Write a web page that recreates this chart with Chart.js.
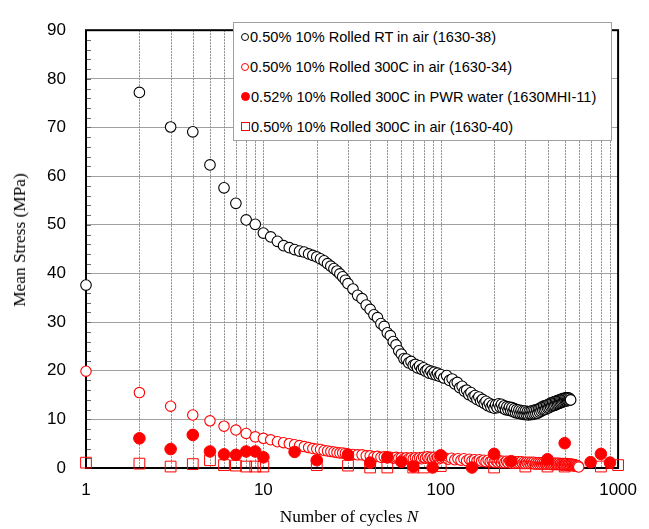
<!DOCTYPE html>
<html>
<head>
<meta charset="utf-8">
<script src="https://cdn.jsdelivr.net/npm/chart.js@4"></script>
<style>
  html,body{margin:0;padding:0;background:#fff;}
  #wrap{position:relative;width:649px;height:529px;overflow:hidden;}
  #c{position:absolute;left:0;top:0;}
  #legend{position:absolute;left:233px;top:22px;width:377px;height:117px;border:1px solid #a0a0a0;background:#fff;
    font-family:'Liberation Sans',Arial,sans-serif;font-size:14.6px;color:#000;}
  .row{position:absolute;left:7px;height:20px;line-height:20px;display:flex;align-items:center;white-space:nowrap;}
  .mk{display:inline-block;box-sizing:border-box;width:8px;height:8px;margin-right:1px;}
  .c0{border:1px solid #000;border-radius:50%;background:#fff;}
  .c1{border:1px solid #ff0000;border-radius:50%;background:#fff;}
  .c2{border:1px solid #ff0000;border-radius:50%;background:#ff0000;width:9px;height:9px;}
  .c3{border:1px solid #ff0000;background:transparent;width:9px;height:9px;}
  .ttl{position:absolute;font-family:'Liberation Serif','Times New Roman',serif;font-size:17.3px;color:#000;white-space:nowrap;}
  #ytitle{left:20px;top:240px;transform:translate(-50%,-50%) rotate(-90deg);}
  #xtitle{left:349px;top:517px;transform:translate(-50%,-50%);}
</style>
</head>
<body>
<div id="wrap">
  <canvas id="c" width="649" height="529"></canvas>
  <div id="legend"></div>
  <div id="ytitle" class="ttl">Mean Stress (MPa)</div>
  <div id="xtitle" class="ttl">Number of cycles <i>N</i></div>
</div>
<script>
// ---------- DATA ----------
const seriesNames = [
  '0.50% 10% Rolled RT in air (1630-38)',
  '0.50% 10% Rolled 300C in air (1630-34)',
  '0.52% 10% Rolled 300C in PWR water (1630MHI-11)',
  '0.50% 10% Rolled 300C in air (1630-40)'
];

// RT in air (1630-38)
const rtCycles = [
  1,2,3,4,5,6,7,8,9,10,11,12,13,14,15,16,17,18,19,20,21,22,23,24,25,26,27,28,29,30,
  32,34,36,38,40,42,44,46,48,50,52,54,56,58,60,62,64,66,68,70,72,74,76,78,80,82,84,86,88,90,92,94,96,98,100,
  104,108,112,116,120,124,128,132,136,140,
  144,148,152,156,160,164,168,172,176,180,
  184,188,192,196,200,204,208,212,216,220,
  224,228,232,236,240,244,248,252,256,260,
  264,268,272,276,280,284,288,292,296,300,
  304,308,312,316,320,324,328,332,336,340,
  344,348,352,356,360,364,368,372,376,380,
  384,388,392,396,400,404,408,412,416,420,
  424,428,432,436,440,444,448,452,456,460,
  464,468,472,476,480,484,488,492,496,500,
  504,508,512,516,520,524,528,532,536,540
];
const rtStress = [
  37.6,77.2,70.1,69.1,62.3,57.6,54.4,51.0,50.1,48.3,
  47.5,46.6,45.7,45.3,44.9,44.6,44.4,44.0,43.7,43.4,
  43.0,42.6,42.0,41.5,41.0,40.5,39.9,39.3,38.6,37.9,
  36.8,35.5,34.8,33.5,32.6,31.5,30.9,29.7,29.1,27.8,
  27.2,26.0,25.3,24.1,23.4,22.5,22.4,21.6,21.9,21.1,
  21.3,20.6,21.0,20.3,20.6,19.9,20.2,19.5,19.9,19.3,
  19.7,19.1,19.5,18.9,19.2,
  18.5,19.0,18.0,18.3,17.3,17.6,16.5,16.8,15.8,16.0,
  15.1,15.5,14.6,14.9,14.1,14.6,13.7,14.1,13.3,13.7,
  12.8,13.3,12.5,13.0,12.3,13.0,12.4,13.2,12.5,13.1,
  12.3,12.8,12.0,12.6,11.9,12.5,11.8,12.4,11.6,12.2,
  11.4,12.0,11.3,11.9,11.2,11.8,11.1,11.7,11.0,11.7,
  11.0,11.6,10.9,11.6,11.0,11.7,11.0,11.8,11.1,11.9,
  11.2,12.0,11.3,12.1,11.5,12.3,11.7,12.5,11.9,12.7,
  12.0,12.8,12.1,12.9,12.3,13.1,12.4,13.2,12.6,13.4,
  12.7,13.5,12.8,13.6,12.9,13.7,13.1,13.8,13.2,13.9,
  13.3,14.0,13.4,14.1,13.5,14.2,13.6,14.3,13.7,14.3,
  13.8,14.4,13.8,14.4,13.9,14.4,13.9,14.3,14.0,14.0
];

// 300C in air (1630-34)
const air34Cycles = [
  1,2,3,4,5,6,7,8,9,10,11,12,13,14,15,16,17,18,19,20,21,22,23,24,25,26,27,28,29,30,
  32,34,36,38,40,42,44,46,48,50,52,54,56,58,60,62,64,66,68,70,72,74,76,78,80,82,84,86,88,90,92,94,96,98,100,
  105,110,115,120,125,130,135,140,145,150,
  155,160,165,170,175,180,185,190,195,200,
  205,210,215,220,225,230,235,240,245,250,
  255,260,265,270,275,280,285,290,295,300,
  305,310,315,320,325,330,335,340,345,350,
  355,360,365,370,375,380,385,390,395,400,
  405,410,415,420,425,430,435,440,445,450,
  455,460,465,470,475,480,485,490,495,500,
  505,510,515,520,525,530,535,540,545,550,
  555,560,565,570,575,580,585,590,595,600
];
const air34Stress = [
  19.9,15.5,12.7,10.9,9.7,8.6,7.8,7.1,6.4,6.1,
  5.8,5.4,5.2,5.0,4.8,4.6,4.4,4.2,4.0,3.9,
  3.8,3.6,3.5,3.4,3.3,3.2,3.1,3.1,3.0,2.9,
  2.8,2.7,2.7,2.5,2.5,2.3,2.4,2.2,2.3,2.1,
  2.2,2.0,2.2,2.0,2.1,1.9,2.1,1.9,2.1,1.9,
  2.1,1.9,2.1,1.9,2.2,2.0,2.3,2.0,2.2,1.9,
  2.2,1.9,2.1,1.9,2.1,
  2.1,1.8,2.0,1.7,1.9,1.6,1.9,1.5,1.8,1.5,
  1.7,1.4,1.7,1.4,1.6,1.3,1.6,1.3,1.5,1.2,
  1.5,1.2,1.5,1.1,1.4,1.1,1.4,1.1,1.4,1.0,
  1.3,1.0,1.3,1.0,1.3,1.0,1.3,0.9,1.2,0.9,
  1.2,0.9,1.2,0.9,1.2,0.9,1.2,0.8,1.1,0.8,
  1.1,0.8,1.1,0.8,1.1,0.8,1.1,0.8,1.1,0.8,
  1.1,0.8,1.0,0.7,1.0,0.7,1.0,0.7,1.0,0.7,
  1.0,0.7,1.0,0.7,0.9,0.6,0.9,0.6,0.9,0.6,
  0.9,0.6,0.9,0.6,0.8,0.5,0.8,0.5,0.8,0.5,
  0.7,0.4,0.7,0.4,0.6,0.4,0.5,0.3,0.4,0.2
];

// 300C in PWR water (1630MHI-11)
const pwrCycles = [2,3,4,5,6,7,8,9,10,15,20,30,40,50,60,70,90,100,150,200,250,400,500,700,800,900];
const pwrStress = [6.1,3.9,6.8,3.4,2.8,2.7,3.4,3.4,2.2,3.3,1.6,2.7,1.1,2.2,1.3,0.3,0.1,2.6,0.1,2.9,1.4,1.8,5.1,1.2,2.9,1.1];

// 300C in air (1630-40)
const air40Cycles = [1,2,3,4,5,6,7,8,9,10,20,30,40,50,70,80,100,200,300,400,500,800,1000];
const air40Stress = [1.1,0.9,0.3,0.8,1.6,0.6,0.5,0.3,0.3,0.3,0.6,0.5,0.1,0.1,0.1,0.1,0.4,0.1,0.3,0.3,0.3,0.3,0.6];

// axis ticks
const xTickCycles = [1,2,3,4,5,6,7,8,9,10,20,30,40,50,60,70,80,90,100,200,300,400,500,600,700,800,900,1000];
const xLabelCycles = [1,10,100,1000];
const yMin = 0, yMax = 90, yStep = 10, yMinorStep = 2;

// ---------- BUILD ----------
const pts = (xs, ys) => xs.map((x, i) => ({x: x, y: ys[i]}));

const frame = {
  id: 'frame',
  beforeDatasetsDraw(chart) {
    const {ctx, chartArea: a, scales} = chart;
    const x = scales.x, y = scales.y;
    ctx.save();
    ctx.strokeStyle = '#8e8e8e';
    ctx.lineWidth = 1;
    ctx.setLineDash([2, 1]);
    x.ticks.forEach(t => {
      const px = Math.round(x.getPixelForValue(t.value)) + 0.5;
      ctx.beginPath(); ctx.moveTo(px, a.top); ctx.lineTo(px, a.bottom); ctx.stroke();
    });
    ctx.setLineDash([]);
    ctx.strokeStyle = '#666';
    for (let v = yMin; v <= yMax; v += yMinorStep) {
      const py = Math.round(y.getPixelForValue(v)) + 0.5;
      ctx.beginPath(); ctx.moveTo(a.left, py); ctx.lineTo(a.left + 5, py); ctx.stroke();
    }
    ctx.strokeStyle = '#000';
    ctx.lineWidth = 2;
    ctx.strokeRect(a.left, a.top, a.right - a.left, a.bottom - a.top);
    ctx.restore();
  }
};

new Chart(document.getElementById('c'), {
  type: 'scatter',
  data: {
    datasets: [
      {label: seriesNames[0], data: pts(rtCycles, rtStress), order: 0, clip: false,
       pointStyle: 'circle', pointRadius: 5.3, borderWidth: 1.1, borderColor: '#000', backgroundColor: '#fff'},
      {label: seriesNames[1], data: pts(air34Cycles, air34Stress), order: 3, clip: false,
       pointStyle: 'circle', pointRadius: 5.2, borderWidth: 1.1, borderColor: '#ff0000', backgroundColor: '#fff'},
      {label: seriesNames[2], data: pts(pwrCycles, pwrStress), order: 2, clip: false,
       pointStyle: 'circle', pointRadius: 5.8, borderWidth: 1, borderColor: '#ff0000', backgroundColor: '#ff0000'},
      {label: seriesNames[3], data: pts(air40Cycles, air40Stress), order: 1, clip: false,
       pointStyle: 'rect', pointRadius: 7.6, borderWidth: 1, borderColor: '#ff0000', backgroundColor: 'rgba(0,0,0,0)'}
    ]
  },
  options: {
    responsive: false,
    animation: false,
    events: [],
    layout: {padding: {top: 12, right: 30, left: 0, bottom: 0}},
    plugins: {legend: {display: false}, tooltip: {enabled: false}},
    scales: {
      x: {
        type: 'logarithmic', min: 1, max: 1000,
        afterFit: s => { s.height = 61; },
        afterBuildTicks: s => { s.ticks = xTickCycles.map(v => ({value: v})); },
        grid: {display: false, drawTicks: false},
        border: {display: false},
        ticks: {
          autoSkip: false, maxRotation: 0, padding: 12, color: '#000',
          font: {family: "'Liberation Sans', Arial, sans-serif", size: 17},
          callback: v => xLabelCycles.includes(v) ? String(v) : ''
        }
      },
      y: {
        min: yMin, max: yMax,
        afterFit: s => { s.width = 86; },
        grid: {color: '#a0a0a0', lineWidth: 1, drawTicks: false},
        border: {display: false},
        ticks: {
          stepSize: yStep, padding: 20, color: '#000',
          font: {family: "'Liberation Sans', Arial, sans-serif", size: 17}
        }
      }
    }
  },
  plugins: [frame]
});

// legend (HTML)
const mkClass = ['c0', 'c1', 'c2', 'c3'];
const leg = document.getElementById('legend');
seriesNames.forEach((name, i) => {
  const row = document.createElement('div');
  row.className = 'row';
  row.style.top = (3.7 + 30 * i) + 'px';
  const mk = document.createElement('span');
  mk.className = 'mk ' + mkClass[i];
  const tx = document.createElement('span');
  tx.textContent = name;
  row.appendChild(mk); row.appendChild(tx);
  leg.appendChild(row);
});
</script>
</body>
</html>
